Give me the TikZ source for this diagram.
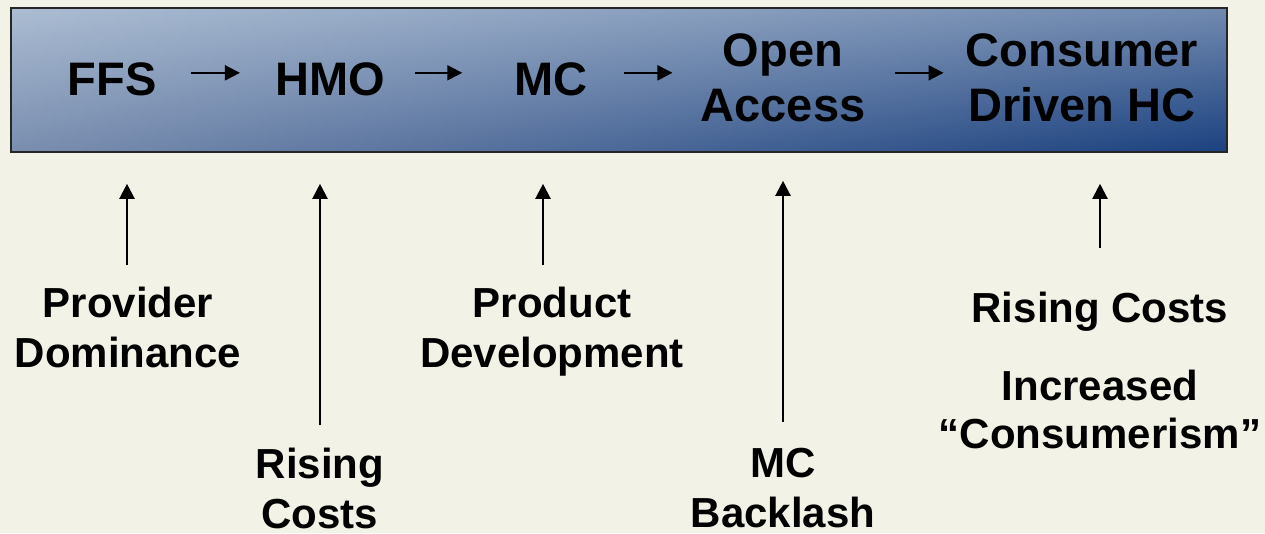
\documentclass[tikz,border=0pt]{standalone}
\usepackage{fontspec}
\setmainfont{Liberation Sans}
\usetikzlibrary{arrows.meta,calc}
\definecolor{bg}{HTML}{F2F2E7}
\definecolor{barTL}{HTML}{ABBCD2}
\definecolor{barBL}{HTML}{7A8EAF}
\definecolor{barTR}{HTML}{7089AF}
\definecolor{barBR}{HTML}{1C4280}
\definecolor{ink}{HTML}{000000}
\tikzset{
  barbox/.style={draw=black!85, line width=1.6pt, inner sep=0pt},
  bartext/.style={font=\fontsize{47}{55}\selectfont\bfseries, text=ink, inner sep=0pt, anchor=north, align=center},
  lowtext/.style={font=\fontsize{42}{50}\selectfont\bfseries, text=ink, inner sep=0pt, anchor=north, align=center},
  hflow/.style={draw=ink, line width=2pt, -{Triangle[length=15pt,width=15pt]}},
  vflow/.style={draw=ink, line width=2.2pt, -{Triangle[length=15pt,width=15pt]}}
}
\begin{document}
\begin{tikzpicture}[x=1pt,y=-1pt]
\useasboundingbox (0,0) rectangle (1265,533);
\fill[bg] (0,0) rectangle (1265,533);
% bilinear gradient fill of the bar, built from thin horizontal strips
\foreach \i in {0,...,47}{
  \pgfmathsetmacro\t{100*\i/47}
  \pgfmathsetmacro\ya{8+3*\i}
  \pgfmathsetmacro\yb{min(152,8+3*\i+3.6)}
  \shade[left color=barBL!\t!barTL, right color=barBR!\t!barTR] (11,\ya) rectangle (1227,\yb);
}
\node[barbox, minimum width=1216pt, minimum height=144pt] (bar) at (619,80) {};
\node[bartext] (ffs) at (112,62) {FFS};
\node[bartext] (hmo) at (330,62) {HMO};
\node[bartext] (mc) at (551,62) {MC};
\node[bartext] (oa) at (783,33) {Open\\Access};
\node[bartext] (cd) at (1082,33) {Consumer\\Driven HC};
\draw[hflow] ($(ffs.east)+(34,-6)$) -- ($(hmo.west |- ffs.east)+(-35,-6)$);
\draw[hflow] ($(hmo.east |- ffs.east)+(30,-6)$) -- ($(mc.west |- ffs.east)+(-52,-6)$);
\draw[hflow] ($(mc.east |- ffs.east)+(36,-6)$) -- ($(oa.west |- ffs.east)+(-28,-6)$);
\draw[hflow] ($(oa.east |- ffs.east)+(29,-6)$) -- ($(cd.west |- ffs.east)+(-22,-6)$);
\node[lowtext] (pd) at (128,287) {Provider\\Dominance};
\node[lowtext] (rc1) at (320,448) {Rising\\Costs};
\node[lowtext] (prod) at (552,287) {Product\\Development};
\node[lowtext] (mcb) at (783,448) {MC\\Backlash};
\node[lowtext] (rc2) at (1100,292) {Rising Costs};
\node[lowtext, font=\fontsize{42}{48}\selectfont\bfseries] (inc) at (1100,370) {Increased\\“Consumerism”};
\draw[vflow] ($(pd.north)+(-1,-22)$) -- ($(pd.north |- bar.south)+(-1,31)$);
\draw[vflow] ($(rc1.north)+(0,-23)$) -- ($(rc1.north |- bar.south)+(0,31)$);
\draw[vflow] ($(prod.north)+(-9,-22)$) -- ($(prod.north |- bar.south)+(-9,31)$);
\draw[vflow] ($(mcb.north)+(0,-26)$) -- ($(mcb.north |- bar.south)+(0,28)$);
\draw[vflow] ($(rc2.north)+(0,-44)$) -- ($(rc2.north |- bar.south)+(0,31)$);
\end{tikzpicture}
\end{document}
